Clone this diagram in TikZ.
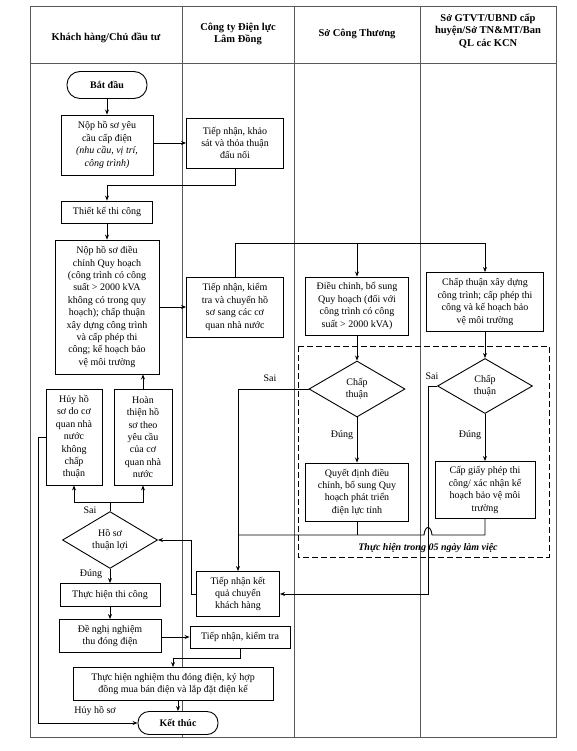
\documentclass[tikz,border=0pt]{standalone}
\usepackage{fontspec}
\setmainfont{Liberation Serif}
\usetikzlibrary{arrows.meta,shapes.geometric}
\begin{document}
\begin{tikzpicture}[x=1pt,y=-1pt,
  every node/.style={font=\fontsize{10}{12.4}\selectfont},
  box/.style={draw, fill=white, line width=0.9pt, align=center, inner sep=1pt},
  term/.style={box, font=\fontsize{10}{12}\selectfont\bfseries},
  dec/.style={draw, fill=white, line width=0.9pt, diamond, align=center, inner sep=0pt},
  conn/.style={line width=0.9pt, -{Stealth[length=5pt,width=4pt]}},
  plain/.style={line width=0.9pt},
  grid/.style={line width=0.6pt, black!65},
  lab/.style={font=\fontsize{10}{12}\selectfont, inner sep=1pt},
  head/.style={font=\fontsize{10.5}{12.8}\selectfont\bfseries, align=center}]
\fill[white] (0,0) rectangle (576,751);
\useasboundingbox (0,0) rectangle (576,751);
% table
\draw[grid] (30,6) rectangle (556,737);
\draw[grid] (30,63) -- (556,63);
\foreach \x in {182,294,420} \draw[grid] (\x,6) -- (\x,737);
\node[head] (h1) at (106,38) {Khách hàng/Chủ đầu tư};
\node[head] (h2) at (238,34) {Công ty Điện lực\\Lâm Đồng};
\node[head] (h3) at (357,34) {Sở Công Thương};
\node[head] (h4) at (488,31) {Sở GTVT/UBND cấp\\huyện/Sở TN\&MT/Ban\\QL các KCN};
% dashed frame
\draw[plain, dash pattern=on 6pt off 3pt] (298,346) rectangle (549,557);
% nodes
\node[term, rounded corners=13pt, minimum width=80pt, minimum height=27pt] (start) at (107,85) {Bắt đầu};
\node[box, minimum width=92pt, minimum height=60pt] (nop1) at (107,145) {Nộp hồ sơ yêu\\cầu cấp điện\\\textit{(nhu cầu, vị trí,}\\\textit{công trình)}};
\node[box, minimum width=97pt, minimum height=50pt] (tn1) at (235,143) {Tiếp nhận, khảo\\sát và thỏa thuận\\đấu nối};
\node[box, minimum width=91pt, minimum height=22pt] (tk) at (107,212) {Thiết kế thi công};
\node[box, minimum width=104pt, minimum height=134pt] (nop2) at (107,307) {Nộp hồ sơ điều\\chỉnh Quy hoạch\\(công trình có công\\suất > 2000 kVA\\không có trong quy\\hoạch); chấp thuận\\xây dựng công trình\\và cấp phép thi\\công; kế hoạch bảo\\vệ môi trường};
\node[box, minimum width=97pt, minimum height=60pt] (tn2) at (235,307) {Tiếp nhận, kiểm\\tra và chuyển hồ\\sơ sang các cơ\\quan nhà nước};
\node[box, minimum width=103pt, minimum height=58pt] (dc) at (357,306) {Điều chỉnh, bổ sung\\Quy hoạch (đối với\\công trình có công\\suất > 2000 kVA)};
\node[box, minimum width=117pt, minimum height=59pt] (ct) at (485,302) {Chấp thuận xây dựng\\công trình; cấp phép thi\\công và kế hoạch bảo\\vệ môi trường};
\node[dec, minimum width=96pt, minimum height=56pt] (d1) at (357,389) {Chấp\\thuận};
\node[dec, minimum width=95pt, minimum height=55pt] (d2) at (485,386) {Chấp\\thuận};
\node[box, minimum width=103pt, minimum height=58pt] (qd) at (357,492) {Quyết định điều\\chỉnh, bổ sung Quy\\hoạch phát triển\\điện lực tỉnh};
\node[box, minimum width=100pt, minimum height=57pt] (cg) at (485,490) {Cấp giấy phép thi\\công/ xác nhận kế\\hoạch bảo vệ môi\\trường};
\node[box, minimum width=83pt, minimum height=45pt] (kq) at (238,594) {Tiếp nhận kết\\quả chuyển\\khách hàng};
\node[dec, minimum width=95pt, minimum height=56pt] (d3) at (110,540) {Hồ sơ\\thuận lợi};
\node[box, minimum width=56pt, minimum height=96pt] (huy) at (74,437) {Hủy hồ\\sơ do cơ\\quan nhà\\nước\\không\\chấp\\thuận};
\node[box, minimum width=58pt, minimum height=96pt] (ht) at (143,437) {Hoàn\\thiện hồ\\sơ theo\\yêu cầu\\của cơ\\quan nhà\\nước};
\node[box, minimum width=100pt, minimum height=23pt] (thtc) at (110,595) {Thực hiện thi công};
\node[box, minimum width=102pt, minimum height=33pt] (dn) at (110,636) {Đề nghị nghiệm\\thu đóng điện};
\node[box, minimum width=100pt, minimum height=22pt] (tn3) at (240,637) {Tiếp nhận, kiểm tra};
\node[box, minimum width=200pt, minimum height=33pt] (nt) at (173,684) {Thực hiện nghiệm thu đóng điện, ký hợp\\đồng mua bán điện và lắp đặt điện kế};
\node[term, rounded corners=11pt, minimum width=80pt, minimum height=23pt] (end) at (178,723) {Kết thúc};
\node[font=\fontsize{10}{12}\selectfont\bfseries\itshape, inner sep=1pt] (frm) at (428,548) {Thực hiện trong 05 ngày làm việc};
% coordinates
\coordinate (yb) at (0,243);
\coordinate (yh) at (0,535);
\coordinate (ys) at (0,502);
\coordinate (x428) at (428,0);
\coordinate (xl) at (38,0);
\coordinate (hopR) at (432,535);
\coordinate (hopL) at (424,535);
% connectors
\draw[conn] (start) -- (nop1);
\draw[conn] (nop1.east |- tn1.west) -- (tn1.west);
\draw[conn] (tn1.south) -- ++(0,17) -| (tk.north);
\draw[conn] (tk) -- (nop2);
\draw[conn] (nop2.east |- tn2.west) -- (tn2.west);
\draw[conn] (tn2.north) -- (tn2.north |- yb) -| (dc.north);
\draw[conn] (tn2.north |- yb) -| (ct.north);
\draw[conn] (dc) -- (d1);
\draw[conn] (ct) -- (d2);
\draw[conn] (d1) -- (qd);
\draw[conn] (d2) -- (cg);
\node[lab] (l1) at (342,435) {Đúng};
\node[lab] (l2) at (470,435) {Đúng};
\draw[conn] (d1.west) -| (kq.north);
\node[lab] (s1) at (270,378) {Sai};
\draw[conn] (d2.west) -- (d2.west -| x428) -- (x428 |- kq.east) -- (kq.east);
\node[lab] (s2) at (432,376) {Sai};
\draw[plain] (qd.south) -- (qd.south |- yh);
\draw[plain] (cg.south) -- (cg.south |- yh) -- (hopR) .. controls (431,525) and (425,525) .. (hopL) -- (kq.north |- yh);
\draw[conn] (kq.west) -- ++(-5,0) |- (d3.east);
\draw[plain] (d3.north) -- (d3.north |- ys);
\draw[conn] (d3.north |- ys) -| (huy.south);
\draw[conn] (d3.north |- ys) -| (ht.south);
\node[lab] (s3) at (90,510) {Sai};
\draw[conn] (ht.north) -- (ht.north |- nop2.south);
\draw[conn] (huy.west) -- (huy.west -| xl) |- (end.west);
\node[lab] (lh) at (95,711) {Hủy hồ sơ};
\draw[conn] (d3) -- (thtc);
\node[lab] (l3) at (91,574) {Đúng};
\draw[conn] (thtc) -- (dn);
\draw[conn] (dn.east |- tn3.west) -- (tn3.west);
\draw[conn] (tn3.south) -- ++(0,10) -| (nt.north);
\draw[conn] (end.north |- nt.south) -- (end.north);
\end{tikzpicture}
\end{document}
